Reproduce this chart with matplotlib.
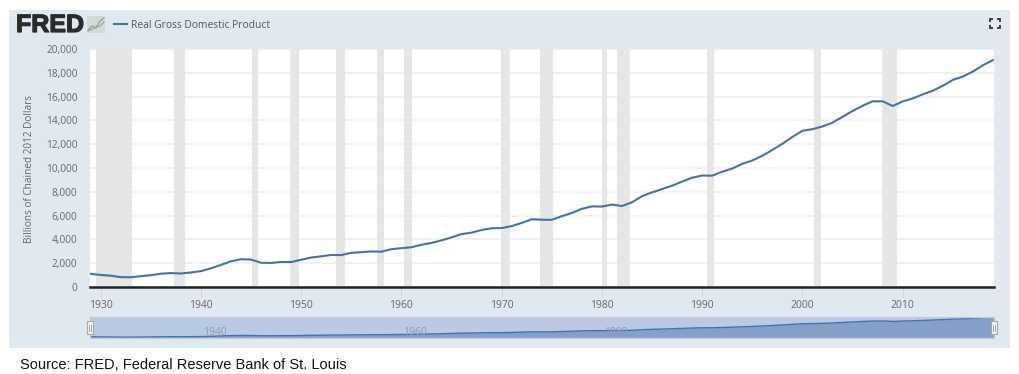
import numpy as np
import matplotlib
matplotlib.use("Agg")
import matplotlib.pyplot as plt
import matplotlib.patheffects as pe
from matplotlib.patches import Rectangle

# === Data ===
years = list(range(1929, 2020))
gdp = [1109, 1015, 950, 830, 817, 906, 987, 1114, 1171, 1132,
       1223, 1330, 1566, 1853, 2158, 2330, 2308, 2040, 2023, 2103,
       2097, 2290, 2475, 2577, 2695, 2680, 2871, 2928, 2987, 2967,
       3176, 3260, 3340, 3550, 3705, 3918, 4170, 4445, 4567, 4792,
       4942, 4952, 5117, 5386, 5691, 5656, 5645, 5950, 6224, 6568,
       6777, 6759, 6930, 6805, 7118, 7632, 7952, 8230, 8512, 8859,
       9186, 9366, 9355, 9685, 9951, 10352, 10630, 11032, 11522, 12038,
       12610, 13131, 13262, 13494, 13816, 14301, 14796, 15236, 15602, 15605,
       15209, 15599, 15841, 16197, 16495, 16912, 17404, 17689, 18108, 18638,
       19073]

rec_start = [1929.55, 1937.3, 1945.08, 1948.85, 1953.5, 1957.58, 1960.25,
             1969.93, 1973.83, 1980.0, 1981.5, 1990.52, 2001.18, 2007.93]
rec_end = [1933.17, 1938.42, 1945.75, 1949.75, 1954.33, 1958.25, 1961.08,
           1970.87, 1975.17, 1980.5, 1982.83, 1991.17, 2001.83, 2009.42]

y_ticks = [0, 2000, 4000, 6000, 8000, 10000, 12000, 14000, 16000, 18000, 20000]
x_ticks = [1930, 1940, 1950, 1960, 1970, 1980, 1990, 2000, 2010]
nav_labels = [1940, 1960, 1980, 2000]

W, H = 1019, 374
LINE = "#4572A7"
PANEL = "#E1E9F0"
TXT = "#666666"
FONT = "Open Sans"


def px_axes(left, top, right, bottom):
    return fig.add_axes([left / W, 1 - bottom / H, (right - left) / W, (bottom - top) / H])


fig = plt.figure(figsize=(W / 100, H / 100), dpi=100, facecolor="white")

# --- pixel-space backdrop, holds panel, logo, legend, source ---
bg = fig.add_axes([0, 0, 1, 1], zorder=0)
bg.set_xlim(0, W)
bg.set_ylim(H, 0)
bg.axis("off")
bg.add_patch(Rectangle((9, 10), 1001, 338, color=PANEL, lw=0))

logo = bg.text(16, 25, "FRED", family="Liberation Sans", weight="bold", fontsize=18,
               color="#2b2b2b", va="center", ha="left")
logo.set_path_effects([pe.withStroke(linewidth=0.9, foreground="#2b2b2b")])
bg.add_patch(Rectangle((87, 16), 18, 17, color="#d5d8d8", lw=0))
bg.plot([88, 92, 96, 100, 104], [30, 26, 28, 21, 18], color="#7f9fb8", lw=0.8)
bg.plot([88, 92, 96, 100, 104], [31, 29, 27, 26, 22], color="#8fae6a", lw=0.8)

bg.plot([114, 127], [24, 24], color=LINE, lw=1.5)
bg.text(131, 25.5, "Real Gross Domestic Product", family=FONT, fontsize=7.4,
        color="#555555", va="center", ha="left")

# fullscreen icon
for cx, cy, dx, dy in [(990, 19, 1, 1), (1000, 19, -1, 1), (990, 28, 1, -1), (1000, 28, -1, -1)]:
    bg.plot([cx + 3 * dx, cx, cx], [cy, cy, cy + 3 * dy], color="#333333", lw=1.3,
            solid_capstyle="butt", solid_joinstyle="miter")

bg.text(29.5, 169, "Billions of Chained 2012 Dollars", family=FONT, fontsize=7.2,
        color=TXT, rotation=90, va="center", ha="center")
bg.text(20, 365, "Source: FRED, Federal Reserve Bank of St. Louis", family="Liberation Sans",
        fontsize=10.55, color="#111111", va="center", ha="left")

# --- main chart ---
ax = px_axes(90, 49, 994, 287)
ax.set_zorder(2)
ax.set_facecolor("white")
ax.set_xlim(1928.95, 2019.1)
ax.set_ylim(0, 20000)
ax.set_yticks(y_ticks)
ax.set_yticklabels([f"{v:,}" for v in y_ticks], family=FONT, fontsize=7.3, color=TXT)
ax.set_xticks(x_ticks)
ax.set_xticklabels([str(v) for v in x_ticks], family=FONT, fontsize=7.5, color=TXT)
ax.tick_params(axis="y", length=0, pad=9)
ax.tick_params(axis="x", length=7, width=0.8, color="#CCD8E6", pad=2)
for s in ["top", "right", "left"]:
    ax.spines[s].set_visible(False)
ax.spines["bottom"].set_color("#222222")
ax.spines["bottom"].set_linewidth(1.8)
ax.grid(axis="y", color="#EFEFEF", lw=1.2)
ax.set_axisbelow(True)
for a, b in zip(rec_start, rec_end):
    ax.axvspan(a, b, color="#E6E6E6", lw=0, zorder=1)
ax.plot(years, gdp, color=LINE, lw=1.5, zorder=3)

# --- navigator ---
nav = px_axes(90, 317, 994, 338)
nav.set_zorder(2)
nav.set_facecolor("#BACAE3")
nav.set_xlim(1929, 2019)
nav.set_ylim(0, 19300)
nav.set_xticks([])
nav.set_yticks([])
for s in nav.spines.values():
    s.set_color("#C8CDD2")
    s.set_linewidth(1)
nav.fill_between(years, gdp, 0, color="#82A0C8", lw=0)
nav.plot(years, gdp, color=LINE, lw=1)
# labels sit to the right of their year in the navigator
for v in nav_labels:
    nav.annotate(str(v), (v, 5200), xytext=(10, 0), textcoords="offset points",
                 family=FONT, fontsize=7.5, color="#8C9DB5", ha="center", va="center")

# navigator handles
top = fig.add_axes([0, 0, 1, 1], zorder=3)
top.set_xlim(0, W)
top.set_ylim(H, 0)
top.axis("off")
for hx in [90, 994]:
    top.add_patch(Rectangle((hx - 3, 321), 6, 13, facecolor="#F2F2F2", edgecolor="#A9A9A9", lw=0.8))
    top.plot([hx - 0.8, hx - 0.8], [325, 331], color="#999999", lw=0.6)
    top.plot([hx + 0.8, hx + 0.8], [325, 331], color="#999999", lw=0.6)

fig.savefig("out.png", dpi=100)
